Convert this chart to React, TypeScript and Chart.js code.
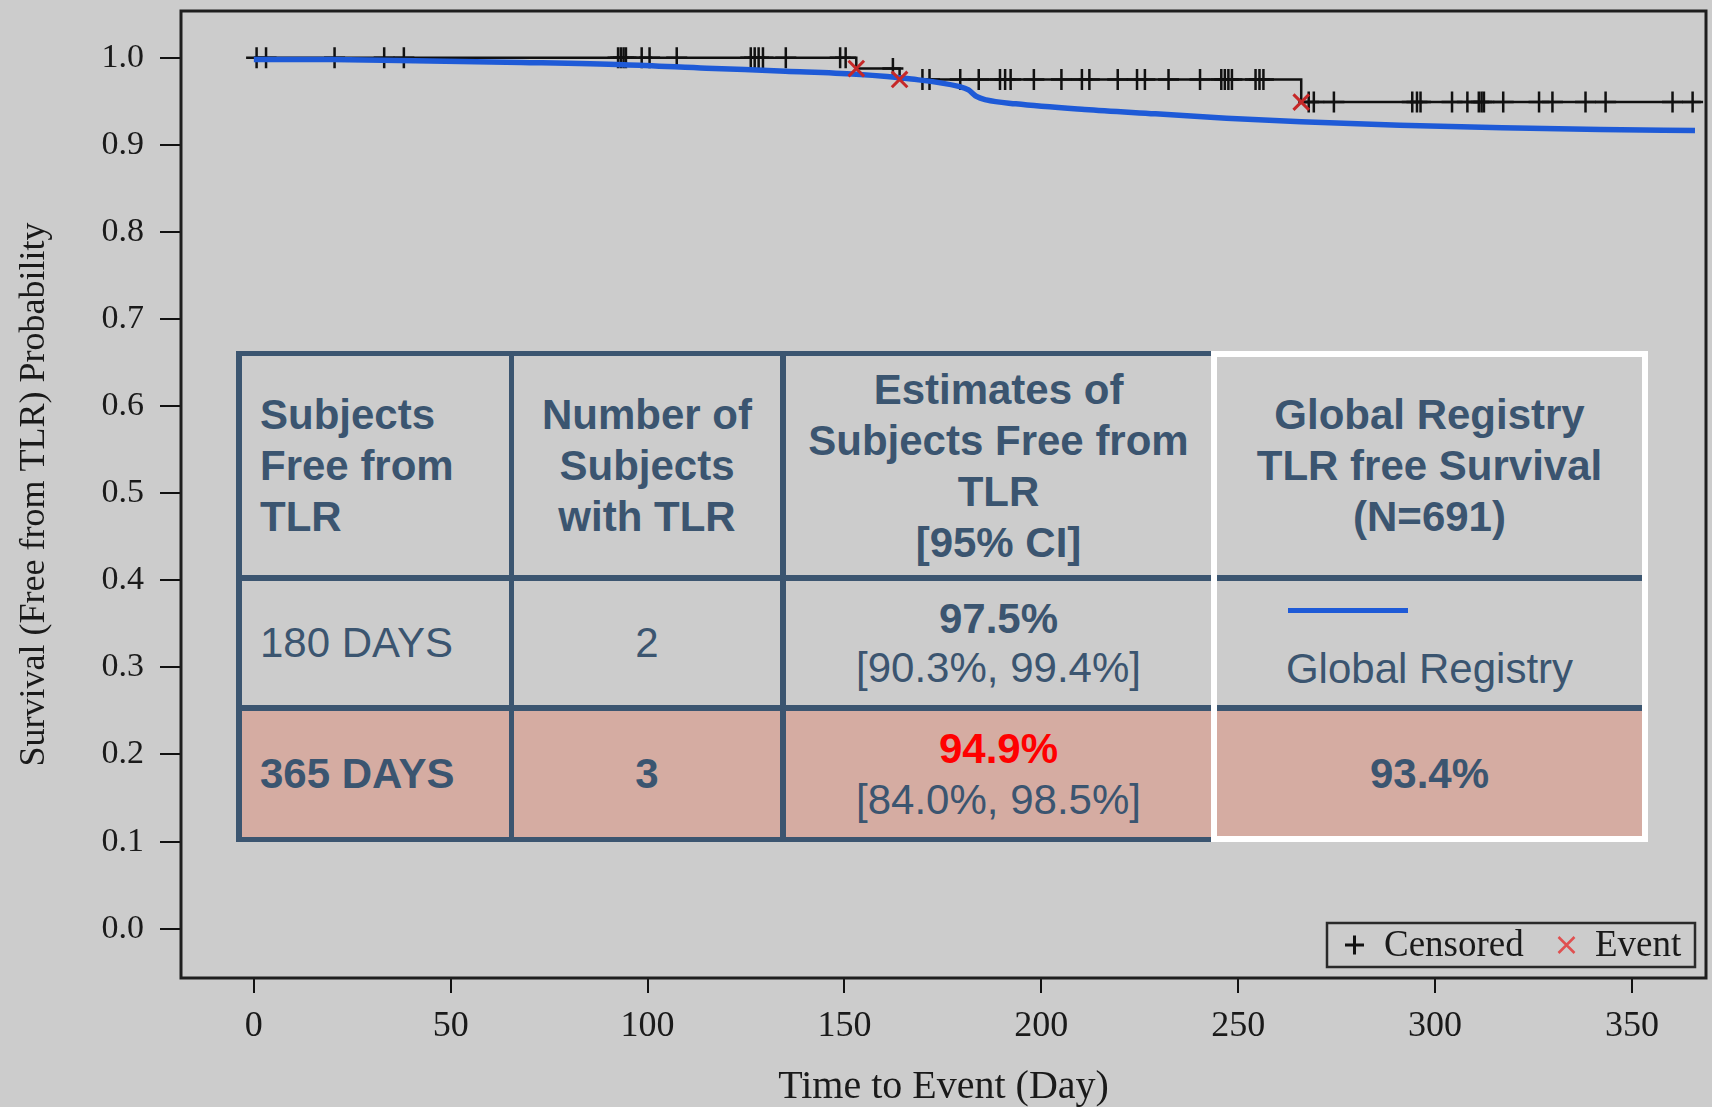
import React, { useEffect, useRef } from 'react';
import { Chart, registerables } from 'chart.js';

Chart.register(...registerables);

// ---------- data ----------
const xTickValues = [0, 50, 100, 150, 200, 250, 300, 350];
const xTickLabels = ['0', '50', '100', '150', '200', '250', '300', '350'];
const yTickValues = [0, 0.1, 0.2, 0.3, 0.4, 0.5, 0.6, 0.7, 0.8, 0.9, 1.0];
const yTickLabels = ['0.0', '0.1', '0.2', '0.3', '0.4', '0.5', '0.6', '0.7', '0.8', '0.9', '1.0'];

// Kaplan-Meier step curve (time of step, survival after the step)
const kmTimes = [0, 153, 164, 266, 367.5];
const kmSurvival = [1.0, 0.9875, 0.975, 0.949, 0.949];

// Events (TLR)
const eventTimes = [153, 164, 266];
const eventSurvival = [0.9875, 0.975, 0.949];

// Censored observations, grouped by the KM level they sit on
const censorLevels = [1.0, 0.9875, 0.975, 0.949];
const censorTimesLevel1 = [0.7, 3.1, 20.5, 33.1, 38.1, 92.5, 93.2, 93.9, 94.5, 98.5, 100.5, 107.4, 126.2, 127.2, 128.2, 129.3, 135.1, 148.9, 150.3];
const censorTimesLevel2 = [162.3];
const censorTimesLevel3 = [169.8, 171.6, 179.4, 184.1, 189.5, 190.8, 192.2, 198.1, 205.1, 210.3, 212.2, 219.4, 224.3, 226.3, 232.3, 240.3, 245.7, 246.6, 247.5, 248.4, 254.4, 255.4, 256.4];
const censorTimesLevel4 = [267.9, 269.2, 274.3, 294.2, 295.4, 296.3, 304.3, 308.2, 311.1, 311.8, 312.4, 317.3, 326.4, 329.8, 338.2, 343.3, 360.3, 365.4];

// Global Registry TLR-free survival curve
const registryDays = [0, 20, 41, 68, 94, 115, 135, 153, 167, 179, 181.5, 183.5, 186, 193.5, 211, 229, 247, 266, 291, 317, 342, 366];
const registrySurvival = [0.998, 0.9978, 0.9966, 0.9946, 0.992, 0.988, 0.9845, 0.981, 0.9755, 0.967, 0.963, 0.9555, 0.9515, 0.947, 0.9405, 0.9355, 0.9305, 0.9265, 0.9225, 0.9195, 0.9175, 0.9165];

// Table
const headerLines = [
  ['Subjects', 'Free from', 'TLR'],
  ['Number of', 'Subjects', 'with TLR'],
  ['Estimates of', 'Subjects Free from', 'TLR', '[95% CI]'],
  ['Global Registry', 'TLR free Survival', '(N=691)'],
];
const rowLabels = ['180 DAYS', '365 DAYS'];
const subjectsWithTLR = ['2', '3'];
const estimates = ['97.5%', '94.9%'];
const estimateCIs = ['[90.3%, 99.4%]', '[84.0%, 98.5%]'];
const registryLegendLabel = 'Global Registry';
const registry365 = '93.4%';

// ---------- styles ----------
const BG = '#cccccc';
const PINK = '#d5aca2';
const SLATE = '#3b5570';
const BLUE = '#1e5ad7';
const EVENT_RED = '#c62828';
const LEGEND_RED = '#e05050';
const INK = '#1a1a1a';
const SERIF = '"Liberation Serif", "Times New Roman", Times, serif';
const SANS = '"Liberation Sans", Arial, Helvetica, sans-serif';

const colStart = [242, 514, 786, 1217];
const colEnd = [509, 780, 1211, 1642];
const rowStart = [356, 581, 711];
const rowEnd = [575, 705, 837];

function cellStyle(c: number, r: number): React.CSSProperties {
  return {
    position: 'absolute',
    left: colStart[c],
    top: rowStart[r],
    width: colEnd[c] - colStart[c],
    height: rowEnd[r] - rowStart[r],
    background: r === 2 ? PINK : BG,
    display: 'flex',
    flexDirection: 'column',
    justifyContent: 'center',
    alignItems: c === 0 ? 'flex-start' : 'center',
    paddingLeft: c === 0 ? 18 : 0,
    boxSizing: 'border-box',
    color: SLATE,
    fontFamily: SANS,
    fontSize: 42,
    whiteSpace: 'nowrap',
  };
}

function zeroScalePadding(s: any) {
  s.paddingTop = 0;
  s.paddingBottom = 0;
  s.paddingLeft = 0;
  s.paddingRight = 0;
}

const framePlugin = {
  id: 'frameAndLegend',
  beforeDraw(chart: any) {
    const { ctx, width, height } = chart;
    ctx.save();
    ctx.fillStyle = BG;
    ctx.fillRect(0, 0, width, height);
    ctx.restore();
  },
  afterDraw(chart: any) {
    const { ctx, chartArea } = chart;
    ctx.save();
    // frame
    ctx.strokeStyle = '#1e1e1e';
    ctx.lineWidth = 3;
    ctx.strokeRect(chartArea.left, chartArea.top, chartArea.right - chartArea.left, chartArea.bottom - chartArea.top);

    // legend box
    const labels = chart.data.datasets.map((d: any) => d.label);
    const censLabel = labels.find((l: string) => l === 'Censored');
    const evLabel = labels.find((l: string) => l === 'Event');
    const right = chartArea.right - 11;
    const bottom = chartArea.bottom - 11;
    const left = right - 368;
    const top = bottom - 44;
    ctx.strokeStyle = '#2a2a2a';
    ctx.lineWidth = 2.5;
    ctx.strokeRect(left, top, right - left, bottom - top);
    const cy = (top + bottom) / 2;
    // censored symbol
    ctx.strokeStyle = '#111';
    ctx.lineWidth = 3;
    const px = left + 27.5;
    ctx.beginPath();
    ctx.moveTo(px - 9.5, cy);
    ctx.lineTo(px + 9.5, cy);
    ctx.moveTo(px, cy - 9.5);
    ctx.lineTo(px, cy + 9.5);
    ctx.stroke();
    ctx.font = `37px ${SERIF}`;
    ctx.fillStyle = INK;
    ctx.textBaseline = 'middle';
    ctx.textAlign = 'left';
    ctx.fillText(censLabel, left + 57, cy + 1);
    // event symbol
    const ex = left + 239.5;
    ctx.strokeStyle = LEGEND_RED;
    ctx.lineWidth = 2.5;
    ctx.beginPath();
    ctx.moveTo(ex - 8, cy - 8);
    ctx.lineTo(ex + 8, cy + 8);
    ctx.moveTo(ex + 8, cy - 8);
    ctx.lineTo(ex - 8, cy + 8);
    ctx.stroke();
    ctx.fillText(evLabel, left + 268, cy + 1);
    ctx.restore();
  },
};

export default function App() {
  const canvasRef = useRef<HTMLCanvasElement>(null);

  useEffect(() => {
    const kmPoints = kmTimes.map((t, i) => ({ x: t, y: kmSurvival[i] }));
    const eventPoints = eventTimes.map((t, i) => ({ x: t, y: eventSurvival[i] }));
    const censorGroups = [censorTimesLevel1, censorTimesLevel2, censorTimesLevel3, censorTimesLevel4];
    const censorPoints: { x: number; y: number }[] = [];
    censorGroups.forEach((g, gi) => g.forEach((t) => censorPoints.push({ x: t, y: censorLevels[gi] })));
    const registryPoints = registryDays.map((d, i) => ({ x: d, y: registrySurvival[i] }));

    const chart = new Chart(canvasRef.current as HTMLCanvasElement, {
      type: 'scatter',
      data: {
        datasets: [
          {
            label: 'Event',
            data: eventPoints,
            pointStyle: 'crossRot',
            pointRadius: 11,
            pointHoverRadius: 11,
            borderColor: EVENT_RED,
            backgroundColor: EVENT_RED,
            borderWidth: 3,
            showLine: false,
            order: 0,
          },
          {
            label: 'Global Registry',
            data: registryPoints,
            showLine: true,
            borderColor: BLUE,
            backgroundColor: BLUE,
            borderWidth: 5.5,
            pointRadius: 0,
            cubicInterpolationMode: 'monotone',
            order: 1,
          },
          {
            label: 'Censored',
            data: censorPoints,
            pointStyle: 'cross',
            pointRadius: 10.5,
            pointHoverRadius: 10.5,
            borderColor: '#111',
            backgroundColor: '#111',
            borderWidth: 2.5,
            showLine: false,
            order: 2,
          },
          {
            label: 'Kaplan-Meier',
            data: kmPoints,
            showLine: true,
            stepped: 'before',
            borderColor: '#111',
            backgroundColor: '#111',
            borderWidth: 2.5,
            pointRadius: 0,
            order: 3,
          },
        ] as any,
      },
      options: {
        responsive: false,
        animation: false,
        devicePixelRatio: 1,
        events: [],
        layout: { autoPadding: false, padding: { left: 0, top: 11, right: 6, bottom: 0 } },
        plugins: { legend: { display: false }, tooltip: { enabled: false } },
        scales: {
          x: {
            type: 'linear',
            min: -18.5,
            max: 368.8,
            afterBuildTicks: (s: any) => {
              s.ticks = xTickValues.map((v) => ({ value: v }));
            },
            afterFit: (s: any) => {
              s.height = 129;
              zeroScalePadding(s);
            },
            grid: { display: true, drawOnChartArea: false, drawTicks: true, tickLength: 15, color: '#111', lineWidth: 2 },
            border: { display: false },
            ticks: {
              autoSkip: false,
              maxRotation: 0,
              padding: 12,
              color: INK,
              font: { family: SERIF, size: 36 },
              callback: (_v: any, i: number) => xTickLabels[i],
            },
            title: {
              display: true,
              text: 'Time to Event (Day)',
              color: INK,
              font: { family: SERIF, size: 40, lineHeight: 1 },
              padding: { top: 0, bottom: 0 },
            },
          },
          y: {
            type: 'linear',
            min: -0.0566,
            max: 1.0536,
            afterBuildTicks: (s: any) => {
              s.ticks = yTickValues.map((v) => ({ value: v }));
            },
            afterFit: (s: any) => {
              s.width = 181;
              zeroScalePadding(s);
            },
            grid: { display: true, drawOnChartArea: false, drawTicks: true, tickLength: 21, color: '#111', lineWidth: 2 },
            border: { display: false },
            ticks: {
              autoSkip: false,
              padding: 16,
              color: INK,
              font: { family: SERIF, size: 34 },
              callback: (_v: any, i: number) => yTickLabels[i],
            },
            title: {
              display: true,
              text: 'Survival (Free from TLR) Probability',
              color: INK,
              font: { family: SERIF, size: 36, lineHeight: 1 },
              padding: { top: 17, bottom: 0 },
            },
          },
        },
      } as any,
      plugins: [framePlugin],
    });
    return () => chart.destroy();
  }, []);

  return (
    <div style={{ position: 'absolute', left: 0, top: 0, width: 1712, height: 1107, background: BG, overflow: 'hidden' }}>
      <canvas
        ref={canvasRef}
        width={1712}
        height={1107}
        style={{ position: 'absolute', left: 0, top: 0, width: 1712, height: 1107 }}
      />
      {/* table borders */}
      <div style={{ position: 'absolute', left: 236, top: 351, width: 1412, height: 491, background: SLATE }} />
      {/* header row */}
      {headerLines.map((lines, c) => (
        <div key={'h' + c} style={cellStyle(c, 0)}>
          {lines.map((t, i) => (
            <div key={i} style={{ fontWeight: 700, lineHeight: '51px' }}>{t}</div>
          ))}
        </div>
      ))}
      {/* 180 days row */}
      <div style={cellStyle(0, 1)}>
        <div style={{ lineHeight: '50px' }}>{rowLabels[0]}</div>
      </div>
      <div style={cellStyle(1, 1)}>
        <div style={{ lineHeight: '50px' }}>{subjectsWithTLR[0]}</div>
      </div>
      <div style={cellStyle(2, 1)}>
        <div style={{ lineHeight: '49px', fontWeight: 700 }}>{estimates[0]}</div>
        <div style={{ lineHeight: '49px' }}>{estimateCIs[0]}</div>
      </div>
      <div style={{ ...cellStyle(3, 1), display: 'block' }}>
        <div style={{ position: 'absolute', left: 71, top: 27, width: 120, height: 5, background: BLUE }} />
        <div style={{ position: 'absolute', left: 0, right: 0, top: 63, lineHeight: '50px', textAlign: 'center' }}>
          {registryLegendLabel}
        </div>
      </div>
      {/* 365 days row */}
      <div style={cellStyle(0, 2)}>
        <div style={{ lineHeight: '50px', fontWeight: 700 }}>{rowLabels[1]}</div>
      </div>
      <div style={cellStyle(1, 2)}>
        <div style={{ lineHeight: '50px', fontWeight: 700 }}>{subjectsWithTLR[1]}</div>
      </div>
      <div style={cellStyle(2, 2)}>
        <div style={{ lineHeight: '51px', fontWeight: 700, color: '#ff0000' }}>{estimates[1]}</div>
        <div style={{ lineHeight: '51px' }}>{estimateCIs[1]}</div>
      </div>
      <div style={cellStyle(3, 2)}>
        <div style={{ lineHeight: '50px', fontWeight: 700 }}>{registry365}</div>
      </div>
      {/* white outline around the registry column */}
      <div
        style={{
          position: 'absolute',
          left: 1211,
          top: 351,
          width: 437,
          height: 491,
          border: '6px solid #ffffff',
          boxSizing: 'border-box',
        }}
      />
    </div>
  );
}
